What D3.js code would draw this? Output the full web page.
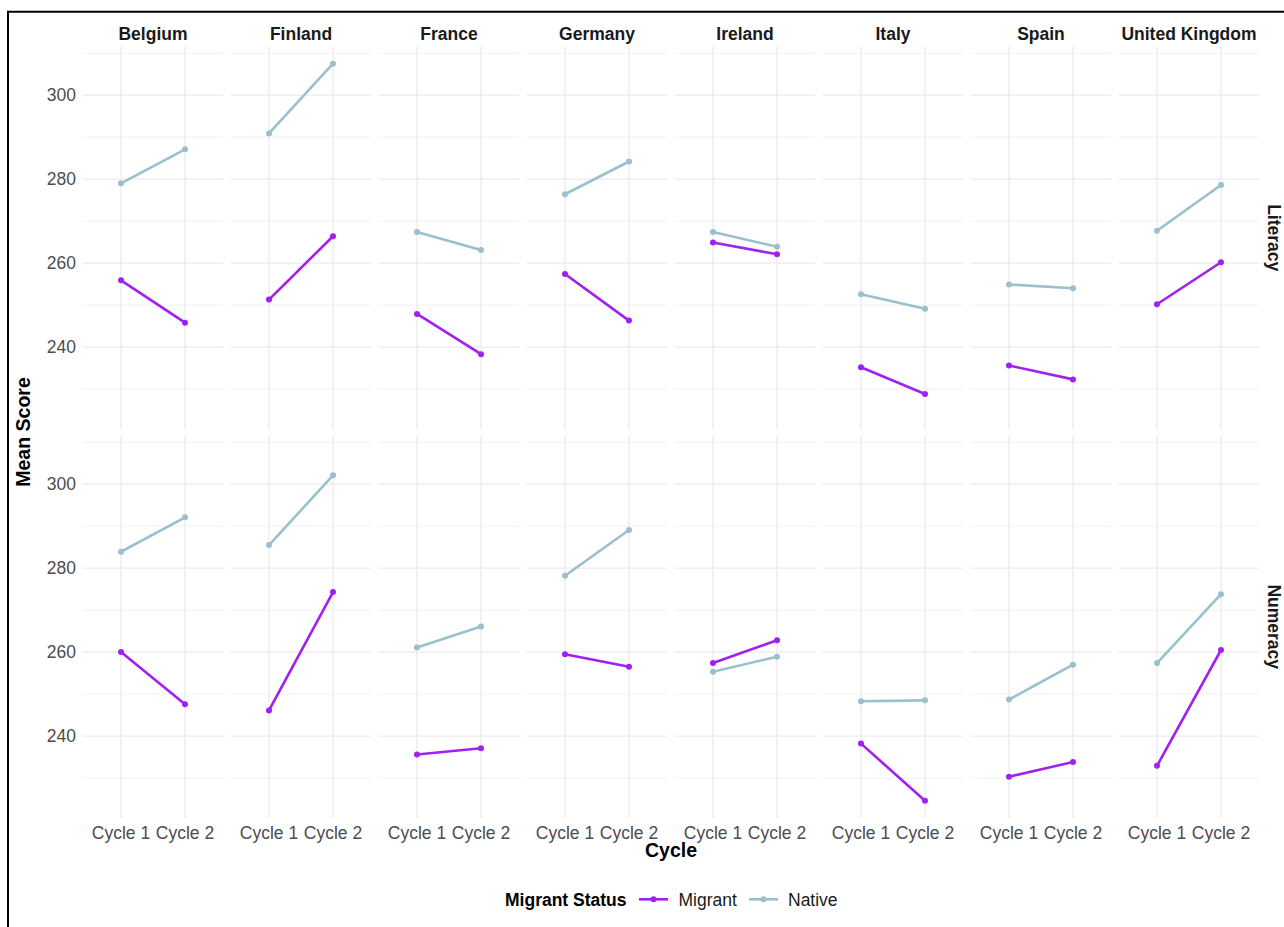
<!DOCTYPE html>
<html>
<head>
<meta charset="utf-8">
<script src="https://cdn.jsdelivr.net/npm/d3@7"></script>
<style>
  html, body { margin: 0; padding: 0; background: #fff; }
  svg { display: block; font-family: "Liberation Sans", Arial, Helvetica, sans-serif; }
</style>
</head>
<body>
<svg id="chart" width="1284" height="927"></svg>
<script>
// ---- Data ----
const countries = ["Belgium", "Finland", "France", "Germany", "Ireland", "Italy", "Spain", "United Kingdom"];
const cycles = ["Cycle 1", "Cycle 2"];
const measures = ["Literacy", "Numeracy"];
const statuses = ["Migrant", "Native"];
const yTicks = [240, 260, 280, 300];
const yMinorTicks = [230, 250, 270, 290, 310];

// [Cycle 1, Cycle 2] per country
const literacyMigrant = [[255.9, 245.8], [251.3, 266.4], [247.9, 238.3], [257.4, 246.3], [264.9, 262.1], [235.2, 228.8], [235.6, 232.3], [250.2, 260.2]];
const literacyNative  = [[279.0, 287.1], [290.9, 307.5], [267.4, 263.1], [276.4, 284.2], [267.4, 263.9], [252.6, 249.1], [254.9, 254.0], [267.7, 278.6]];
const numeracyMigrant = [[260.0, 247.6], [246.1, 274.3], [235.6, 237.1], [259.5, 256.5], [257.4, 262.8], [238.2, 224.6], [230.3, 233.8], [232.9, 260.5]];
const numeracyNative  = [[283.9, 292.1], [285.5, 302.1], [261.1, 266.1], [278.2, 289.1], [255.3, 258.9], [248.3, 248.5], [248.7, 257.0], [257.4, 273.8]];

const seriesData = {
  Literacy: { Migrant: literacyMigrant, Native: literacyNative },
  Numeracy: { Migrant: numeracyMigrant, Native: numeracyNative }
};

// ---- Layout ----
const svg = d3.select("#chart");
const colors = d3.scaleOrdinal().domain(statuses).range(["#A020F0", "#9AC0CD"]);
const gridColor = "#EBEBEB";

const fx = d3.scaleBand().domain(countries).range([82.6, 1259.4]).paddingInner(0.0486).paddingOuter(0);
const x = d3.scalePoint().domain(cycles).range([0, fx.bandwidth()]).padding(0.6);

const allVals = [literacyMigrant, literacyNative, numeracyMigrant, numeracyNative].flat(2);
const ext = d3.extent(allVals);
const pad = (ext[1] - ext[0]) * 0.05;
const yDomain = [ext[0] - pad, ext[1] + pad];
const panelRows = { Literacy: [429.1, 46.3], Numeracy: [818.1, 435.3] };
const yScales = {};
measures.forEach(m => { yScales[m] = d3.scaleLinear().domain(yDomain).range(panelRows[m]); });

// border (left + top)
svg.append("line").attr("x1", 8).attr("x2", 8).attr("y1", 11).attr("y2", 927).attr("stroke", "#000").attr("stroke-width", 2);
svg.append("line").attr("x1", 7).attr("x2", 1284).attr("y1", 11.7).attr("y2", 11.7).attr("stroke", "#000").attr("stroke-width", 2);

measures.forEach(m => {
  const y = yScales[m];
  const [yb, yt] = panelRows[m];
  countries.forEach((c, ci) => {
    const g = svg.append("g").attr("transform", `translate(${fx(c)},0)`);
    const w = fx.bandwidth();
    // minor grid
    g.selectAll(".minor").data(yMinorTicks).join("line")
      .attr("x1", 0).attr("x2", w)
      .attr("y1", d => y(d)).attr("y2", d => y(d))
      .attr("stroke", gridColor).attr("stroke-width", 0.7);
    // major grid
    g.selectAll(".major").data(yTicks).join("line")
      .attr("x1", 0).attr("x2", w)
      .attr("y1", d => y(d)).attr("y2", d => y(d))
      .attr("stroke", gridColor).attr("stroke-width", 1.3);
    g.selectAll(".vmajor").data(cycles).join("line")
      .attr("x1", d => x(d)).attr("x2", d => x(d))
      .attr("y1", yt).attr("y2", yb)
      .attr("stroke", gridColor).attr("stroke-width", 1.3);

    statuses.forEach(s => {
      const vals = seriesData[m][s][ci];
      const pts = cycles.map((cy, k) => ({ cy, v: vals[k] }));
      g.append("path").datum(pts)
        .attr("d", d3.line().x(d => x(d.cy)).y(d => y(d.v)))
        .attr("fill", "none").attr("stroke", colors(s)).attr("stroke-width", 2.6);
      g.selectAll(null).data(pts).join("circle")
        .attr("cx", d => x(d.cy)).attr("cy", d => y(d.v)).attr("r", 3)
        .attr("fill", colors(s));
    });
  });

  // y-axis tick labels
  svg.append("g").selectAll("text").data(yTicks).join("text")
    .attr("x", 76).attr("y", d => y(d)).attr("dy", "0.35em")
    .attr("text-anchor", "end").attr("font-size", 17.5).attr("fill", "#4D4D4D")
    .text(d => d);

  // right strip labels
  const cyMid = (yb + yt) / 2;
  svg.append("text")
    .attr("transform", `translate(1268,${cyMid}) rotate(90)`)
    .attr("text-anchor", "middle").attr("font-size", 17.5).attr("font-weight", "bold")
    .attr("fill", "#1A1A1A").text(m);
});

// top strip labels
svg.append("g").selectAll("text").data(countries).join("text")
  .attr("x", d => fx(d) + fx.bandwidth() / 2).attr("y", 39.5)
  .attr("text-anchor", "middle").attr("font-size", 17.5).attr("font-weight", "bold")
  .attr("fill", "#1A1A1A").text(d => d);

// x tick labels
countries.forEach(c => {
  svg.append("g").selectAll("text").data(cycles).join("text")
    .attr("x", d => fx(c) + x(d)).attr("y", 838.5)
    .attr("text-anchor", "middle").attr("font-size", 17.5).attr("fill", "#4D4D4D")
    .text(d => d);
});

// axis titles
svg.append("text").attr("x", 671).attr("y", 856.5).attr("text-anchor", "middle")
  .attr("font-size", 19.5).attr("font-weight", "bold").attr("fill", "#000").text("Cycle");
svg.append("text").attr("transform", "translate(30,432) rotate(-90)").attr("text-anchor", "middle")
  .attr("font-size", 19.5).attr("font-weight", "bold").attr("fill", "#000").text("Mean Score");

// legend
const lg = svg.append("g");
lg.append("text").attr("x", 505).attr("y", 905.5).attr("font-size", 17.5).attr("font-weight", "bold")
  .attr("fill", "#000").text("Migrant Status");
const legendItems = [
  { s: "Migrant", x0: 639, tx: 678.5 },
  { s: "Native", x0: 749, tx: 788 }
];
legendItems.forEach(it => {
  lg.append("line").attr("x1", it.x0).attr("x2", it.x0 + 29).attr("y1", 899.3).attr("y2", 899.3)
    .attr("stroke", colors(it.s)).attr("stroke-width", 2.6);
  lg.append("circle").attr("cx", it.x0 + 14.5).attr("cy", 899.3).attr("r", 3).attr("fill", colors(it.s));
  lg.append("text").attr("x", it.tx).attr("y", 905.5).attr("font-size", 17.5).attr("fill", "#1A1A1A").text(it.s);
});
</script>
</body>
</html>
